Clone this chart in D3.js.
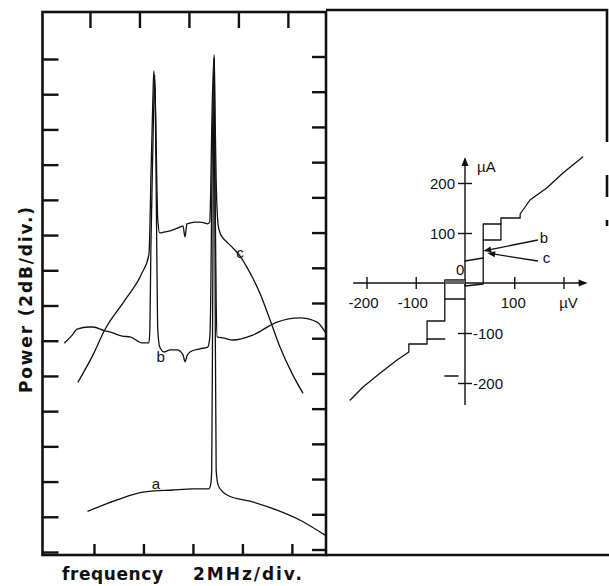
<!DOCTYPE html>
<html>
<head>
<meta charset="utf-8">
<script src="https://cdn.jsdelivr.net/npm/d3@7"></script>
<style>
  body { margin: 0; background: #fff; }
  svg { display: block; }
  .curve { fill: none; stroke: #111; stroke-width: 1.3; stroke-linejoin: round; stroke-linecap: round; }
  .frame { fill: none; stroke: #111; stroke-width: 2.6; }
  .ticks line { stroke: #111; stroke-width: 2.4; }
  .iv-ticks line { stroke: #111; stroke-width: 1.4; }
  text { font-family: "Liberation Sans", Arial, sans-serif; fill: #111; }
  .title { font-family: "DejaVu Sans", sans-serif; font-weight: bold; font-size: 17px; }
</style>
</head>
<body>
<svg id="chart" width="609" height="586"></svg>
<script>
// left panel: spectra, in divisions (2 MHz/div, 2 dB/div)
const freqTicks = [1, 2, 3, 4, 5];
const powerTicks = [0, 1, 2, 3, 4, 5, 6, 7, 8, 9, 10, 11, 12, 13, 14];

const spectrumA = [
  [0.92, 1.16], [1.51, 1.48], [2.03, 1.70], [2.64, 1.76], [3.04, 1.79], [3.36, 1.79],
  [3.40, 1.93], [3.42, 2.33], [3.44, 7.16], [3.47, 13.97], [3.49, 7.16], [3.51, 2.33],
  [3.55, 1.90], [3.63, 1.73], [3.73, 1.62], [4.25, 1.42], [4.74, 1.19], [5.20, 0.91], [5.71, 0.48]
];
const spectrumB = [
  [0.45, 5.94], [0.60, 6.16], [0.70, 6.33], [0.94, 6.39], [1.02, 6.39], [1.26, 6.28],
  [1.36, 6.25], [1.61, 6.13], [1.77, 6.11], [2.01, 5.94], [2.15, 5.94], [2.17, 6.31],
  [2.19, 8.58], [2.23, 11.42], [2.27, 13.55], [2.29, 11.42], [2.31, 8.58], [2.33, 6.31],
  [2.37, 5.82], [2.46, 5.68], [2.58, 5.74], [2.72, 5.74], [2.84, 5.60], [2.88, 5.40],
  [2.92, 5.57], [2.98, 5.68], [3.18, 5.77], [3.34, 5.82], [3.38, 6.08], [3.40, 7.16],
  [3.42, 10.00], [3.47, 14.03], [3.49, 10.00], [3.51, 7.16], [3.53, 6.11], [3.65, 6.08],
  [3.85, 6.02], [4.25, 6.16], [4.74, 6.53], [5.20, 6.65], [5.55, 6.53], [5.71, 6.25]
];
const spectrumC = [
  [0.72, 4.83], [1.00, 5.54], [1.26, 6.31], [1.67, 7.16], [2.01, 7.92], [2.15, 8.44],
  [2.17, 9.15], [2.19, 10.57], [2.23, 12.84], [2.25, 13.66], [2.29, 12.27], [2.31, 10.57],
  [2.33, 9.43], [2.37, 9.06], [2.47, 9.09], [2.58, 9.12], [2.68, 9.17], [2.78, 9.23],
  [2.84, 9.26], [2.88, 8.95], [2.92, 9.32], [2.98, 9.34], [3.08, 9.37], [3.18, 9.37],
  [3.28, 9.34], [3.34, 9.32], [3.38, 9.37], [3.40, 10.28], [3.42, 11.99], [3.47, 14.12],
  [3.49, 12.27], [3.51, 10.57], [3.55, 9.29], [3.59, 9.06], [3.63, 8.95], [3.73, 8.80],
  [3.85, 8.63], [3.99, 8.41], [4.13, 8.09], [4.25, 7.78], [4.39, 7.36], [4.60, 6.59],
  [4.80, 5.82], [5.04, 5.08], [5.26, 4.52]
];
const spectrumLabels = [
  { name: "a", f: 2.29, p: 1.79 },
  { name: "b", f: 2.39, p: 5.40 },
  { name: "c", f: 3.99, p: 8.35 }
];

// right panel: I-V curve, µV and µA
const voltTicks = [-200, -100, 100, 200];
const voltLabels = ["-200", "-100", "100", "\u00b5V"];
const currentTicks = [200, 100, -100, -200];
const currentLabels = ["200", "100", "-100", "-200"];

const ivTrace = [
  [-233, -234], [-207, -208], [-172, -180], [-138, -154], [-114, -138], [-114, -122],
  [-77, -122], [-77, -76], [-41, -76], [-41, 6], [0, 6], [0, -6], [37, -2], [37, 118],
  [73, 118], [73, 130], [112, 130], [112, 138], [132, 166], [166, 190], [199, 220], [239, 252]
];
const ivBranches = [
  [[-77, -112], [-41, -112]],
  [[-41, -32], [0, -32]],
  [[0, 44], [37, 50]],
  [[37, 86], [73, 86], [73, 118]],
  [[-41, -186], [-14, -186]]
];
const ivSupercurrent = [[-41, 2], [0, 2]];
const arrowB = { from: [148, 86], to: [37, 64], label: "b", at: [152, 80] };
const arrowC = { from: [148, 44], to: [45, 60], label: "c", at: [158, 40] };

const svg = d3.select("#chart");
svg.append("rect").attr("width", 609).attr("height", 586).attr("fill", "#fff");

// ---- left panel ----
const xF = d3.scaleLinear().domain([0, 5.73]).range([42.5, 326]);
const yP = d3.scaleLinear().domain([0, 14]).range([552, 59]);
const pTop = yP.invert(12), pBottom = yP.invert(555);

svg.append("rect").attr("class", "frame")
  .attr("x", xF(0)).attr("y", yP(pTop))
  .attr("width", xF(5.73) - xF(0)).attr("height", yP(pBottom) - yP(pTop));

const noLabel = g => { g.select(".domain").remove(); g.selectAll("text").remove(); };

svg.append("g").attr("class", "ticks")
  .attr("transform", `translate(${xF(0)},0)`)
  .call(d3.axisRight(yP).tickValues(powerTicks).tickSize(16)).call(noLabel);
svg.append("g").attr("class", "ticks")
  .attr("transform", `translate(${xF(5.73)},-2.5)`)
  .call(d3.axisLeft(yP).tickValues(powerTicks).tickSize(14)).call(noLabel);
svg.append("g").attr("class", "ticks")
  .attr("transform", `translate(-2,${yP(pTop)})`)
  .call(d3.axisBottom(xF).tickValues(freqTicks).tickSize(16)).call(noLabel);
svg.append("g").attr("class", "ticks")
  .attr("transform", `translate(2,${yP(pBottom)})`)
  .call(d3.axisTop(xF).tickValues(freqTicks).tickSize(11)).call(noLabel);

const spec = d3.line().x(d => xF(d[0])).y(d => yP(d[1])).curve(d3.curveMonotoneX);
[spectrumA, spectrumB, spectrumC].forEach(s => {
  svg.append("path").attr("class", "curve").attr("d", spec(s));
});

svg.selectAll(".spec-label").data(spectrumLabels).join("text")
  .attr("class", "spec-label")
  .attr("x", d => xF(d.f)).attr("y", d => yP(d.p))
  .attr("text-anchor", "middle").attr("font-size", 15)
  .text(d => d.name);

svg.append("text").attr("class", "title")
  .attr("transform", "translate(32,300) rotate(-90)")
  .attr("text-anchor", "middle")
  .attr("textLength", 186).attr("lengthAdjust", "spacing")
  .text("Power (2dB/div.)");
svg.append("text").attr("class", "title").attr("x", 62).attr("y", 580)
  .attr("textLength", 101).attr("lengthAdjust", "spacing")
  .text("frequency");
svg.append("text").attr("class", "title").attr("x", 193).attr("y", 580)
  .attr("textLength", 109).attr("lengthAdjust", "spacing")
  .text("2MHz/div.");

// ---- right panel ----
svg.append("path").attr("class", "frame")
  .attr("d", "M326,10 L607,10 L607,142 M607,175 L607,197 M607,220 L607,226 M326,555 L609,555");

const xV = d3.scaleLinear().domain([-240, 250]).range([346.8, 588.1]);
const yA = d3.scaleLinear().domain([-250, 260]).range([408, 153]);

// axes with arrows
svg.append("line").attr("x1", xV(-227)).attr("x2", xV(243)).attr("y1", yA(0)).attr("y2", yA(0))
  .attr("stroke", "#111").attr("stroke-width", 1.4);
svg.append("line").attr("x1", xV(0)).attr("x2", xV(0)).attr("y1", yA(-244)).attr("y2", yA(246))
  .attr("stroke", "#111").attr("stroke-width", 1.4);
svg.append("path").attr("fill", "#111")
  .attr("d", `M${xV(249)},${yA(0)} l-9,-3.5 l0,7 z M${xV(0)},${yA(252)} l-3.5,9 l7,0 z`);

svg.append("g").attr("class", "iv-ticks")
  .attr("transform", `translate(0,${yA(0) - 6})`)
  .call(d3.axisBottom(xV).tickValues(voltTicks).tickSize(12)).call(noLabel);
svg.append("g").attr("class", "iv-ticks")
  .attr("transform", `translate(${xV(0) - 7},0)`)
  .call(d3.axisRight(yA).tickValues(currentTicks).tickSize(14)).call(noLabel);

svg.selectAll(".vlab").data(voltTicks).join("text").attr("class", "vlab")
  .attr("x", d => xV(d) + (d < 0 ? -3 : d > 150 ? 5 : -1)).attr("y", yA(0) + 25)
  .attr("text-anchor", "middle").attr("font-size", 15)
  .text((d, i) => voltLabels[i]);
svg.selectAll(".alab").data(currentTicks).join("text").attr("class", "alab")
  .attr("x", d => d > 0 ? xV(0) - 10 : xV(0) + 8)
  .attr("y", d => yA(d) + 5.5)
  .attr("text-anchor", d => d > 0 ? "end" : "start").attr("font-size", 15)
  .text((d, i) => currentLabels[i]);
svg.append("text").attr("x", xV(0) - 9).attr("y", yA(0) - 8)
  .attr("font-size", 15).text("0");
svg.append("text").attr("x", xV(0) + 12).attr("y", yA(222))
  .attr("font-size", 15).text("\u00b5A");

const iv = d3.line().x(d => xV(d[0])).y(d => yA(d[1]));
svg.append("path").attr("class", "curve").attr("d", iv(ivTrace));
ivBranches.forEach(b => svg.append("path").attr("class", "curve").attr("d", iv(b)));
svg.append("path").attr("d", iv(ivSupercurrent)).attr("stroke", "#666").attr("stroke-width", 3.5).attr("fill", "none");

[arrowB, arrowC].forEach(a => {
  const x1 = xV(a.from[0]), y1 = yA(a.from[1]), x2 = xV(a.to[0]), y2 = yA(a.to[1]);
  const ang = Math.atan2(y2 - y1, x2 - x1);
  svg.append("line").attr("x1", x1).attr("y1", y1).attr("x2", x2 - 6 * Math.cos(ang)).attr("y2", y2 - 6 * Math.sin(ang))
    .attr("stroke", "#111").attr("stroke-width", 1.3);
  const bx = x2 - 8 * Math.cos(ang), by = y2 - 8 * Math.sin(ang);
  const px = 3 * Math.sin(ang), py = -3 * Math.cos(ang);
  svg.append("path").attr("fill", "#111")
    .attr("d", `M${x2},${y2} L${bx + px},${by + py} L${bx - px},${by - py} Z`);
  svg.append("text").attr("x", xV(a.at[0])).attr("y", yA(a.at[1]))
    .attr("font-size", 15).text(a.label);
});
</script>
</body>
</html>
